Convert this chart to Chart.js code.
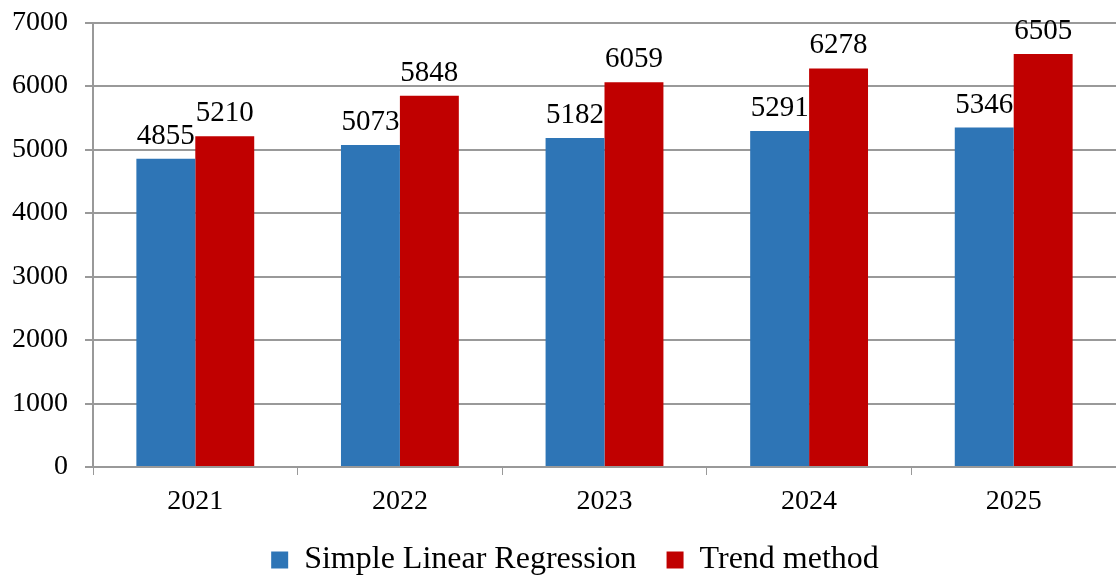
<!DOCTYPE html>
<html>
<head>
<meta charset="utf-8">
<script src="https://cdn.jsdelivr.net/npm/chart.js@4"></script>
<style>
  html, body { margin: 0; padding: 0; background: #fff; }
  #wrap { width: 1116px; height: 577px; }
</style>
</head>
<body>
<div id="wrap"><canvas id="myChart"></canvas></div>
<script>
const years = ['2021', '2022', '2023', '2024', '2025'];
const regressionValues = [4855, 5073, 5182, 5291, 5346];
const trendValues = [5210, 5848, 6059, 6278, 6505];
const yTicks = [0, 1000, 2000, 3000, 4000, 5000, 6000, 7000];

const serif = '"Liberation Serif", "Times New Roman", serif';

// draws the value above each bar
const barLabels = {
    id: 'barLabels',
    afterDatasetsDraw(chart) {
        const ctx = chart.ctx;
        ctx.save();
        ctx.font = '29px ' + serif;
        ctx.fillStyle = '#000';
        ctx.textAlign = 'center';
        ctx.textBaseline = 'alphabetic';
        chart.data.datasets.forEach((ds, i) => {
            chart.getDatasetMeta(i).data.forEach((bar, j) => {
                ctx.fillText(ds.data[j], bar.x, bar.y - 15);
            });
        });
        ctx.restore();
    }
};

// the legend sits a little right of centre in the original
const legendShift = {
    id: 'legendShift',
    afterLayout(chart) {
        chart.legend.left += 17;
        chart.legend.right += 17;
    }
};

new Chart(document.getElementById('myChart'), {
    type: 'bar',
    data: {
        labels: years,
        datasets: [{
            label: 'Simple Linear Regression',
            data: regressionValues,
            backgroundColor: '#2E75B6'
        }, {
            label: 'Trend method',
            data: trendValues,
            backgroundColor: '#C00000'
        }]
    },
    options: {
        responsive: true,
        maintainAspectRatio: false,
        animation: false,
        categoryPercentage: 0.576,
        barPercentage: 1,
        layout: { padding: 0 },
        plugins: {
            tooltip: { enabled: false },
            legend: {
                position: 'bottom',
                maxHeight: 63,
                labels: {
                    font: { family: serif, size: 32 },
                    color: '#000',
                    boxWidth: 17,
                    boxHeight: 17,
                    padding: 30
                }
            }
        },
        scales: {
            x: {
                grid: { display: true, drawOnChartArea: false, color: '#999', tickLength: 8, offset: true },
                border: { color: '#999', width: 2 },
                ticks: { font: { family: serif, size: 28 }, color: '#000', padding: 10 },
                afterFit: axis => { axis.height = 47; }
            },
            y: {
                min: 0,
                max: 7000,
                afterBuildTicks: axis => { axis.ticks = yTicks.map(v => ({ value: v })); },
                grid: { color: '#999', lineWidth: 2, tickLength: 8 },
                border: { color: '#999', width: 2 },
                ticks: { font: { family: serif, size: 28, lineHeight: 0.4 }, color: '#000', padding: 17, callback: v => String(v) },
                afterFit: axis => { axis.width = 93; }
            }
        }
    },
    plugins: [barLabels, legendShift]
});
</script>
</body>
</html>
